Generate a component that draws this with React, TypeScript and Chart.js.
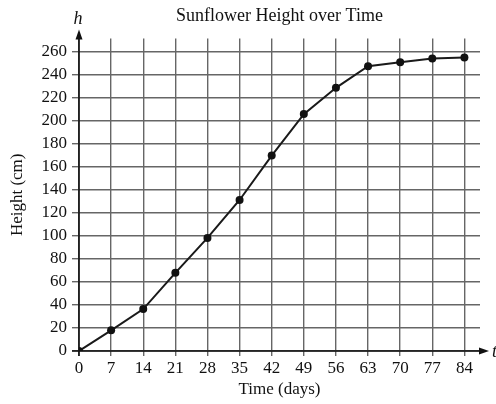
import React, { useEffect, useRef } from "react";
import { Chart, registerables } from "chart.js";

Chart.register(...registerables);

const days = [0, 7, 14, 21, 28, 35, 42, 49, 56, 63, 70, 77, 84];
const heights = [0, 17.9, 36.4, 67.8, 98.1, 131, 169.5, 205.5, 228.3, 247.1, 250.5, 253.8, 254.5];
const title = "Sunflower Height over Time";
const xTitle = "Time (days)";
const yTitle = "Height (cm)";
const xAxisVar = "t";
const yAxisVar = "h";

const serif = "'Liberation Serif', 'DejaVu Serif', serif";

const axesPlugin = {
  id: "axesArrows",
  afterDatasetsDraw(chart: any) {
    const { ctx, chartArea, scales } = chart;
    const x0 = scales.x.getPixelForValue(0);
    const y0 = scales.y.getPixelForValue(0);
    ctx.save();
    ctx.strokeStyle = "#111";
    ctx.fillStyle = "#111";
    ctx.lineWidth = 1.6;
    // y axis
    ctx.beginPath();
    ctx.moveTo(x0, y0 + 5);
    ctx.lineTo(x0, chartArea.top - 2);
    ctx.stroke();
    ctx.beginPath();
    ctx.moveTo(x0, chartArea.top - 9);
    ctx.lineTo(x0 - 3.5, chartArea.top + 1);
    ctx.lineTo(x0 + 3.5, chartArea.top + 1);
    ctx.closePath();
    ctx.fill();
    // x axis
    ctx.beginPath();
    ctx.moveTo(x0 - 7, y0);
    ctx.lineTo(chartArea.right + 2, y0);
    ctx.stroke();
    ctx.beginPath();
    ctx.moveTo(chartArea.right + 9, y0);
    ctx.lineTo(chartArea.right - 1, y0 - 3.5);
    ctx.lineTo(chartArea.right - 1, y0 + 3.5);
    ctx.closePath();
    ctx.fill();
    ctx.font = `italic 18px ${serif}`;
    ctx.textAlign = "center";
    ctx.textBaseline = "middle";
    ctx.fillText(yAxisVar, x0 - 1, chartArea.top - 19);
    ctx.textAlign = "left";
    ctx.fillText(xAxisVar, chartArea.right + 12, y0 + 1);
    ctx.restore();
  },
};

export default function App() {
  const ref = useRef<HTMLCanvasElement>(null);
  useEffect(() => {
    document.body.style.margin = "0";
    const chart = new Chart(ref.current as HTMLCanvasElement, {
      type: "line",
      data: {
        datasets: [
          {
            data: days.map((d, i) => ({ x: d, y: heights[i] })),
            borderColor: "#1a1a1a",
            backgroundColor: "#1a1a1a",
            borderWidth: 2,
            pointRadius: 4,
            pointBackgroundColor: "#111",
            pointBorderWidth: 0,
            tension: 0,
          },
        ],
      },
      options: {
        animation: false,
        responsive: false,
        maintainAspectRatio: false,
        layout: { padding: { left: 0, right: 16, top: 0, bottom: 0 } },
        plugins: {
          legend: { display: false },
          tooltip: { enabled: false },
          title: {
            display: true,
            text: title,
            fullSize: false,
            color: "#111",
            font: { family: serif, size: 18, weight: "normal" },
            padding: { top: 5, bottom: 12 },
          },
        },
        scales: {
          x: {
            type: "linear",
            min: 0,
            max: 87.4,
            afterFit(scale: any) {
              scale.height = 53;
            },
            ticks: {
              stepSize: 7,
              includeBounds: false,
              color: "#111",
              font: { family: serif, size: 17 },
              padding: 2,
              maxRotation: 0,
            },
            grid: { color: "#666", lineWidth: 1.4, tickLength: 5 },
            border: { display: false },
            title: {
              display: true,
              text: xTitle,
              color: "#111",
              font: { family: serif, size: 17 },
              padding: { top: 0, bottom: 4 },
            },
          },
          y: {
            type: "linear",
            min: 0,
            max: 271,
            afterFit(scale: any) {
              scale.width = 79;
            },
            ticks: {
              stepSize: 20,
              includeBounds: false,
              color: "#111",
              font: { family: serif, size: 17 },
              padding: 5,
            },
            grid: { color: "#666", lineWidth: 1.4, tickLength: 7 },
            border: { display: false },
            title: {
              display: true,
              text: yTitle,
              color: "#111",
              font: { family: serif, size: 17 },
              padding: { top: 7, bottom: 0 },
            },
          },
        },
      },
      plugins: [axesPlugin],
    } as any);
    return () => chart.destroy();
  }, []);
  return (
    <div style={{ position: "absolute", left: 0, top: 0, width: 496, height: 404, background: "#fff" }}>
      <canvas ref={ref} width={496} height={404} style={{ width: 496, height: 404 }} />
    </div>
  );
}
